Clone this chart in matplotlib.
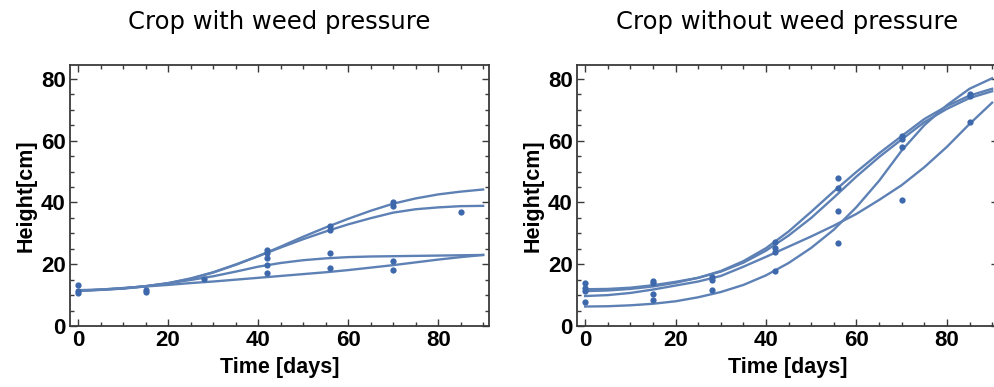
import numpy as np
import matplotlib.pyplot as plt
from matplotlib.ticker import MultipleLocator

# sampling days for the fitted curves (every 5 days)
days = [0, 5, 10, 15, 20, 25, 30, 35, 40, 45, 50, 55, 60, 65, 70, 75, 80, 85, 90]

# crop with weed pressure: fitted curves
weed_a = [11.5, 11.7, 12.1, 12.8, 13.8, 15.3, 17.3, 19.8, 22.6, 25.7, 28.9, 31.9, 34.7, 37.3, 39.6, 41.3, 42.6, 43.5, 44.2]
weed_b = [11.6, 11.8, 12.2, 12.9, 13.9, 15.4, 17.4, 19.9, 22.6, 25.4, 28.1, 30.6, 32.9, 34.9, 36.7, 37.8, 38.4, 38.8, 38.9]
weed_c = [11.4, 11.7, 12.2, 12.9, 13.8, 14.9, 16.1, 17.6, 19.2, 20.4, 21.3, 21.9, 22.3, 22.5, 22.6, 22.7, 22.8, 22.9, 23.0]
weed_d = [11.3, 11.8, 12.3, 12.8, 13.3, 13.9, 14.4, 15.0, 15.6, 16.2, 16.8, 17.4, 18.1, 18.9, 19.7, 20.6, 21.5, 22.3, 23.0]

# crop with weed pressure: measurements
weed_x = [0, 0, 0, 15, 15, 28, 42, 42, 42, 42, 42, 56, 56, 56, 56, 70, 70, 70, 70, 85]
weed_y = [13.3, 11.4, 10.8, 11.5, 10.9, 15.2, 24.6, 23.6, 22.0, 19.7, 17.3,
          32.4, 31.1, 23.7, 18.9, 40.2, 38.8, 21.1, 18.1, 37.0]

# crop without weed pressure: fitted curves
free_e = [6.3, 6.4, 6.7, 7.2, 8.0, 9.3, 11.0, 13.3, 16.4, 20.4, 25.3, 31.2, 38.5, 47.0, 56.8, 65.0, 71.5, 76.8, 80.2]
free_f = [9.7, 10.0, 10.7, 11.8, 13.1, 14.4, 16.2, 19.2, 22.4, 25.7, 29.0, 32.5, 36.3, 40.8, 45.6, 51.4, 58.0, 65.4, 72.3]
free_g = [11.9, 12.0, 12.4, 13.2, 14.3, 15.6, 17.8, 21.0, 25.2, 30.6, 37.0, 43.6, 49.9, 55.9, 61.5, 67.0, 71.2, 74.6, 76.8]
free_h = [11.3, 11.5, 12.0, 12.8, 14.0, 15.6, 17.6, 20.5, 24.4, 29.3, 35.0, 41.6, 48.4, 54.7, 60.4, 66.0, 70.3, 73.8, 76.0]

# crop without weed pressure: measurements
free_x = [0, 0, 0, 0, 15, 15, 15, 15, 28, 28, 28, 42, 42, 42, 42,
          56, 56, 56, 56, 70, 70, 70, 70, 85, 85, 85]
free_y = [14.0, 12.2, 11.4, 7.7, 14.6, 13.8, 10.4, 8.4, 16.0, 14.9, 11.7,
          27.3, 25.1, 24.0, 17.9, 48.0, 44.8, 37.3, 26.8,
          61.5, 60.4, 57.8, 40.8, 75.0, 74.4, 66.1]

titles = ["Crop with weed pressure", "Crop without weed pressure"]

line_col = "#5e81b5"
dot_col = "#3d68ab"
frame_col = "#3a3a3a"

fig = plt.figure(figsize=(9.95, 3.87), dpi=100)
W, H = 995, 387
boxes = [(70, 489), (577, 998)]
top, bottom = 65, 326

panels = [
    ([weed_a, weed_b, weed_c, weed_d], weed_x, weed_y),
    ([free_e, free_f, free_g, free_h], free_x, free_y),
]

for (x0, x1), (curves, px, py), title in zip(boxes, panels, titles):
    ax = fig.add_axes([x0 / W, 1 - bottom / H, (x1 - x0) / W, (bottom - top) / H])
    for c in curves:
        ax.plot(days, c, color=line_col, lw=1.7)
    ax.plot(px, py, "o", color=dot_col, ms=4.5, mew=0)
    ax.set_xlim(-1.8, 91.3)
    ax.set_ylim(0, 84.5)
    ax.xaxis.set_major_locator(MultipleLocator(20))
    ax.xaxis.set_minor_locator(MultipleLocator(5))
    ax.yaxis.set_major_locator(MultipleLocator(20))
    ax.yaxis.set_minor_locator(MultipleLocator(5))
    ax.tick_params(which="both", direction="in", top=True, right=True,
                   color=frame_col, width=1.0)
    ax.tick_params(which="major", length=5, pad=3)
    ax.tick_params(which="minor", length=3)
    for lab in ax.get_xticklabels() + ax.get_yticklabels():
        lab.set_fontfamily("Liberation Sans")
        lab.set_fontweight("bold")
        lab.set_fontsize(16)
    for s in ax.spines.values():
        s.set_color(frame_col)
        s.set_linewidth(1.3)
    ax.set_xlabel("Time [days]", family="Liberation Sans", weight="bold",
                  fontsize=15.5, labelpad=4)
    ax.set_ylabel("Height[cm]", family="Liberation Sans", weight="bold",
                  fontsize=15.5, labelpad=3)
    fig.text((x0 + x1) / 2 / W, 1 - 22 / H, title, ha="center", va="center",
             family="DejaVu Sans", fontsize=17.5)

fig.savefig("out.png", dpi=100)
